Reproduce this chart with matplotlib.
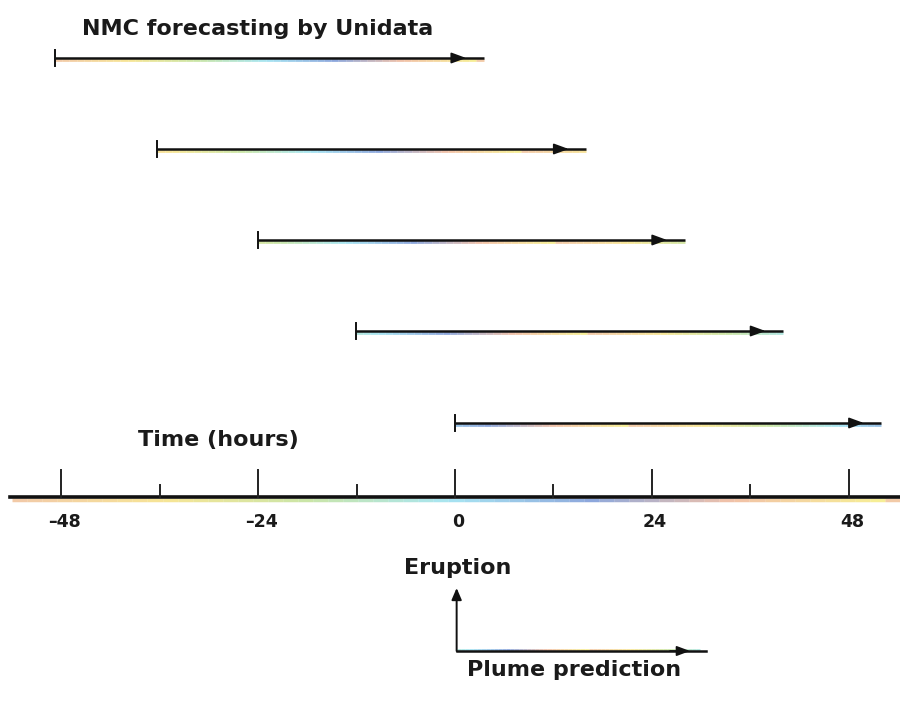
import matplotlib
matplotlib.use("Agg")
import matplotlib.pyplot as plt
from matplotlib.collections import LineCollection
from matplotlib.colors import LinearSegmentedColormap
import numpy as np

# ---- data ----
run_starts = [-48.8, -36.3, -24.0, -12.1, 0.0]     # forecast run start (hours)
run_ends = [3.5, 16.0, 28.0, 40.0, 52.0]           # forecast run end (hours)
major_ticks = [-48, -24, 0, 24, 48]
minor_ticks = [-36, -12, 12, 36]
tick_labels = ["-48", "-24", "0", "24", "48"]
title_text = "NMC forecasting by Unidata"
axis_text = "Time (hours)"
eruption_text = "Eruption"
plume_text = "Plume prediction"

# ---- layout (pixel-like y coords) ----
PX_PER_H = 8.2
X0 = 455.0
W, H = 900, 710

def hx(px):
    return (px - X0) / PX_PER_H

fig = plt.figure(figsize=(9, 7.1), dpi=100)
ax = fig.add_axes([0, 0, 1, 1])
ax.set_xlim(hx(0), hx(W))
ax.set_ylim(H, 0)
ax.axis("off")

fringe = LinearSegmentedColormap.from_list(
    "fringe", ["#e8a060", "#f0d040", "#a0d060", "#60d0e8", "#3060c0", "#e89060", "#f0e040"])

def fringe_line(x0, x1, y, dy=2.0, alpha=0.55, lw=2.0, phase=0.0):
    xs = np.linspace(x0, x1, 60)
    pts = np.column_stack([xs, np.full_like(xs, y + dy)])
    segs = np.stack([pts[:-1], pts[1:]], axis=1)
    vals = (np.linspace(0, 1, len(segs)) + phase) % 1.0
    lc = LineCollection(segs, cmap=fringe, lw=lw, alpha=alpha, zorder=2)
    lc.set_array(vals)
    ax.add_collection(lc)

row_y = [58, 149, 240, 331, 423]
font = dict(family="DejaVu Sans", color="#1a1a1a", fontweight="bold")

# forecast arrows
for i, (s, e, y) in enumerate(zip(run_starts, run_ends, row_y)):
    fringe_line(s, e, y, phase=0.15 * i)
    ax.plot([s, e], [y, y], color="#111111", lw=1.8, solid_capstyle="butt", zorder=3)
    ax.plot([s, s], [y - 8, y + 8], color="#111111", lw=1.4, zorder=3)
    ax.annotate("", xy=(e - 1.8, y), xytext=(e - 3.5, y),
                arrowprops=dict(arrowstyle="-|>,head_length=0.9,head_width=0.33",
                                color="#111111", lw=1.2), zorder=4)

# time axis
axis_y = 497
fringe_line(hx(12), hx(W), axis_y, dy=2.5, lw=2.5)
ax.plot([hx(10), hx(W)], [axis_y, axis_y], color="#111111", lw=2.6, zorder=3)
for t in major_ticks:
    ax.plot([t, t], [axis_y, axis_y - 27], color="#222222", lw=1.4, zorder=3)
for t in minor_ticks:
    ax.plot([t, t], [axis_y, axis_y - 12], color="#222222", lw=1.4, zorder=3)
for t, lab in zip(major_ticks, tick_labels):
    ax.text(t + 0.4, 522, lab.replace("-", "\u2013"), ha="center", va="center",
            fontsize=12.5, **font)

ax.text(hx(82), 29, title_text, ha="left", va="center", fontsize=16, **font)
ax.text(hx(138), 440, axis_text, ha="left", va="center", fontsize=16, **font)
ax.text(hx(404), 568, eruption_text, ha="left", va="center", fontsize=16, **font)
ax.text(hx(467), 670, plume_text, ha="left", va="center", fontsize=16, **font)

# eruption / plume L arrow
cx, cy = 0.2, 651
ax.annotate("", xy=(cx, 588), xytext=(cx, cy),
            arrowprops=dict(arrowstyle="-|>,head_length=0.7,head_width=0.3",
                            color="#111111", lw=1.4, shrinkA=0, shrinkB=0))
fringe_line(cx, hx(700), cy, dy=-1.5, lw=2.0, phase=0.45)
ax.plot([cx, hx(706)], [cy, cy], color="#111111", lw=1.8, zorder=3)
ax.annotate("", xy=(hx(690), cy), xytext=(hx(670), cy),
            arrowprops=dict(arrowstyle="-|>,head_length=0.8,head_width=0.3",
                            color="#111111", lw=1.2, shrinkA=0, shrinkB=0))

fig.savefig("out.png", dpi=100, facecolor="white")
